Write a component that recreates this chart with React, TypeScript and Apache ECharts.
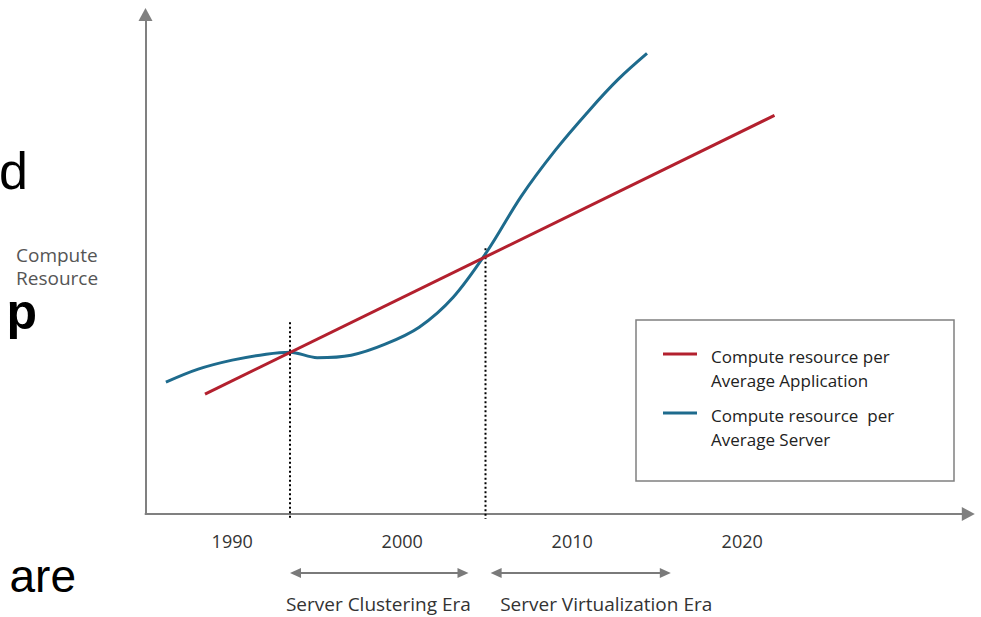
import React, { useEffect, useRef } from 'react';
import * as echarts from 'echarts';

// ---- data ----
const tickYears = [1990, 2000, 2010, 2020];
const appYears = [1988.4, 2021.9];
const appValues = [120, 399];
const serverYears = [1986.1, 1988, 1990, 1992, 1993.4, 1995, 1997, 1999, 2001, 2003, 2005, 2007, 2009, 2011, 2012.7, 2014.4];
const serverValues = [132, 145, 154, 160, 162, 156.5, 159, 170, 187, 217, 263, 318, 364, 404, 435, 461];
const boundaryYears = [1993.4, 2004.9];
const boundaryTops = [192, 266];
const boundaryBottom = -5;
const eraNames = ['Server Clustering Era', 'Server Virtualization Era'];
const eraStarts = [1993.4, 2005.2];
const eraEnds = [2003.9, 2015.8];
const eraLabelYears = [1998.6, 2012.0];
const eraArrowValue = -59;
const eraLabelValue = -90;
const seriesNames = ['Compute resource per\nAverage Application', 'Compute resource  per\nAverage Server'];
const yAxisTitle = 'Compute\nResource';

const RED = '#B3202E';
const BLUE = '#1E6B8D';
const AXIS = '#808080';
const FONT = '"Open Sans", "Noto Sans", sans-serif';

export default function App() {
  const ref = useRef<HTMLDivElement>(null);
  useEffect(() => {
    const chart = echarts.init(ref.current!, null, { renderer: 'svg' });
    const boundarySeries = boundaryYears.map((yr, i) => ({
      type: 'line',
      name: 'boundary' + i,
      data: [[yr, boundaryTops[i]], [yr, boundaryBottom]],
      symbol: 'none',
      clip: false,
      silent: true,
      lineStyle: { color: '#000', width: 2, type: [2, 2.5] },
      z: 1,
    }));
    chart.setOption({
      animation: false,
      grid: { left: 145.5, right: 12.7, top: 14.5, bottom: 103 },
      xAxis: {
        type: 'value',
        min: 1984.9,
        max: 2033.3,
        axisLine: { show: true, onZero: false, symbol: ['none', 'triangle'], symbolSize: [14, 13], lineStyle: { color: AXIS, width: 2 } },
        axisTick: { show: false },
        splitLine: { show: false },
        axisLabel: { customValues: tickYears, formatter: (v: number) => String(v), color: '#333', fontSize: 18, fontFamily: FONT, margin: 18 },
      },
      yAxis: {
        type: 'value',
        min: 0,
        max: 500,
        axisLine: { show: true, onZero: false, symbol: ['none', 'triangle'], symbolSize: [14, 13], lineStyle: { color: AXIS, width: 2 } },
        axisTick: { show: false },
        splitLine: { show: false },
        axisLabel: { show: false },
      },
      series: [
        {
          type: 'line',
          name: seriesNames[0],
          data: appYears.map((y, i) => [y, appValues[i]]),
          symbol: 'none',
          lineStyle: { color: RED, width: 3 },
          z: 3,
        },
        {
          type: 'line',
          name: seriesNames[1],
          data: serverYears.map((y, i) => [y, serverValues[i]]),
          symbol: 'none',
          smooth: 0.33,
          lineStyle: { color: BLUE, width: 3 },
          z: 2,
        },
        ...boundarySeries,
      ],
    });

    const px = (x: number, y: number) => chart.convertToPixel({ gridIndex: 0 }, [x, y]) as number[];
    const graphic: any[] = [];
    // era arrows
    eraNames.forEach((name, i) => {
      const a = px(eraStarts[i], eraArrowValue);
      const b = px(eraEnds[i], eraArrowValue);
      const lab = px(eraLabelYears[i], eraLabelValue);
      const y = a[1];
      graphic.push({ type: 'line', shape: { x1: a[0] + 8, y1: y, x2: b[0] - 8, y2: y }, style: { stroke: '#7a7a7a', lineWidth: 2 } });
      graphic.push({ type: 'polygon', shape: { points: [[a[0], y], [a[0] + 11, y - 5], [a[0] + 11, y + 5]] }, style: { fill: '#7a7a7a' } });
      graphic.push({ type: 'polygon', shape: { points: [[b[0], y], [b[0] - 11, y - 5], [b[0] - 11, y + 5]] }, style: { fill: '#7a7a7a' } });
      graphic.push({ type: 'text', x: lab[0], y: lab[1], style: { text: name, fill: '#333', font: `19px ${FONT}`, lineHeight: 20, textAlign: 'center', textVerticalAlign: 'middle' } });
    });
    // legend
    graphic.push({ type: 'rect', shape: { x: 636, y: 320, width: 318, height: 161 }, style: { fill: '#fff', stroke: '#808080', lineWidth: 1.5 }, z: 10 });
    const legendY = [354, 413];
    const legendColors = [RED, BLUE];
    seriesNames.forEach((n, i) => {
      graphic.push({ type: 'line', shape: { x1: 663, y1: legendY[i], x2: 697, y2: legendY[i] }, style: { stroke: legendColors[i], lineWidth: 3 }, z: 11 });
      graphic.push({ type: 'text', x: 711, y: legendY[i] - 10, style: { text: n, fill: '#222', font: `17px ${FONT}`, lineHeight: 24, textVerticalAlign: 'top' }, z: 11 });
    });
    // y axis title
    graphic.push({ type: 'text', x: 16, y: 243.5, style: { text: yAxisTitle, fill: '#555', font: `19px ${FONT}`, lineHeight: 23, textVerticalAlign: 'top' } });
    // stray slide text
    graphic.push({ type: 'text', x: 28, y: 145, style: { text: 'd', fill: '#000', font: '52px "Liberation Sans", Arial, sans-serif', textAlign: 'right', textVerticalAlign: 'top' } });
    graphic.push({ type: 'text', x: 37, y: 312, style: { text: 'p', fill: '#000', font: 'bold 50px "Liberation Sans", Arial, sans-serif', lineHeight: 30, textAlign: 'right', textVerticalAlign: 'middle' } });
    graphic.push({ type: 'text', x: 76, y: 553, style: { text: 'are', fill: '#000', font: '46px "Liberation Sans", Arial, sans-serif', textAlign: 'right', textVerticalAlign: 'top' } });
    chart.setOption({ graphic });

    return () => chart.dispose();
  }, []);
  return <div ref={ref} style={{ position: 'fixed', left: 0, top: 0, width: 981, height: 617, background: '#fff' }} />;
}
